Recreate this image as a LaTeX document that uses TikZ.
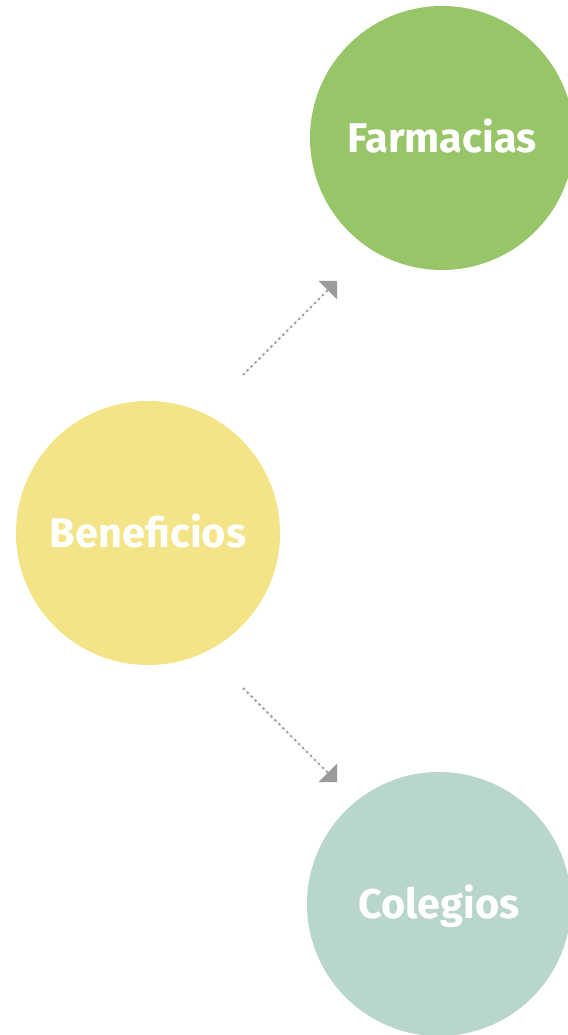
\documentclass[tikz,border=0pt]{standalone}
\usepackage{fontspec}
\setmainfont{Fira Sans}
\usepackage{tikz}
\usetikzlibrary{arrows.meta}
\usepackage{xcolor}

\definecolor{farmverde}{RGB}{152,197,104}
\definecolor{benamarillo}{RGB}{242,228,135}
\definecolor{colturquesa}{RGB}{185,214,206}
\definecolor{flechagris}{RGB}{155,155,155}

\begin{document}
\begin{tikzpicture}[
    x = 1pt, y = -1pt,
    tema/.style={circle, draw=none, minimum size=264pt, inner sep=0pt,
        text=white, text height=29pt, text depth=0pt,
        font=\fontsize{41.5}{44}\selectfont\bfseries},
    flecha/.style={-{Triangle[length=13pt, width=26pt]}, draw=flechagris,
        fill=flechagris, line width=2pt, dash pattern=on 2pt off 3.6pt}
]
    \useasboundingbox (0,0) rectangle (567,1035);

    \node[tema, fill=benamarillo] (ben) at (148,533) {Beneficios};
    \node[tema, fill=farmverde] (far) at (442,138) {Farmacias};
    \node[tema, fill=colturquesa] (col) at (439,904) {Colegios};

    \coordinate (s1) at (243,375);
    \coordinate (e1) at (337,281);
    \coordinate (s2) at (243,688);
    \coordinate (e2) at (337,782);

    \path
        (s1) edge[flecha] (e1)
        (s2) edge[flecha] (e2);
\end{tikzpicture}
\end{document}
